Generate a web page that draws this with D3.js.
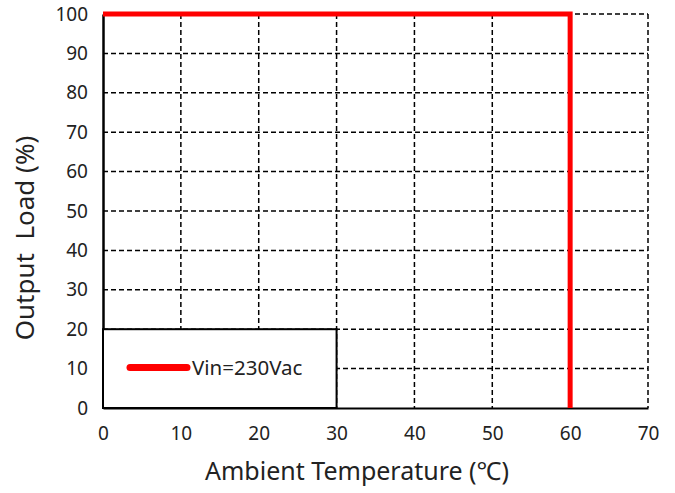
<!DOCTYPE html>
<html>
<head>
<meta charset="utf-8">
<script src="https://cdn.jsdelivr.net/npm/d3@7"></script>
<style>
  body { margin: 0; background: #fff; }
  text { font-family: "Noto Sans", "Open Sans", sans-serif; fill: #222; }
</style>
</head>
<body>
<div id="chart"></div>
<script>
// Derating curve values
const xTicks = [0, 10, 20, 30, 40, 50, 60, 70];
const yTicks = [0, 10, 20, 30, 40, 50, 60, 70, 80, 90, 100];
const curveTemp = [0, 60, 60];
const curveLoad = [100, 100, 0];
const seriesName = "Vin=230Vac";
const xTitle = "Ambient Temperature (℃)";
const yTitle = "Output  Load (%)";

function drawChart() {
  const W = 675, H = 493;
  const margin = { top: 14, right: 27, bottom: 85, left: 103 };
  const width = W - margin.left - margin.right;
  const height = H - margin.top - margin.bottom;

  const svg = d3.select("#chart").append("svg")
      .attr("width", W).attr("height", H);
  const g = svg.append("g")
      .attr("transform", `translate(${margin.left},${margin.top})`);

  const x = d3.scaleLinear().domain([0, 70]).range([0, width]);
  const y = d3.scaleLinear().domain([0, 100]).range([height, 0]);

  // dashed grid
  g.selectAll(".vgrid").data(xTicks.slice(1))
    .enter().append("line")
      .attr("x1", d => x(d)).attr("x2", d => x(d))
      .attr("y1", 0).attr("y2", height)
      .attr("stroke", "#000").attr("stroke-width", 1.5)
      .attr("stroke-dasharray", "5,3");
  g.selectAll(".hgrid").data(yTicks.slice(1))
    .enter().append("line")
      .attr("x1", 0).attr("x2", width)
      .attr("y1", d => y(d)).attr("y2", d => y(d))
      .attr("stroke", "#000").attr("stroke-width", 1.5)
      .attr("stroke-dasharray", "5,3");

  // axes
  const xAxis = g.append("g")
      .attr("transform", `translate(0,${height})`)
      .call(d3.axisBottom(x).tickValues(xTicks).tickSize(0).tickPadding(19));
  xAxis.select(".domain").attr("stroke", "#000").attr("stroke-width", 2);
  xAxis.selectAll("text").style("font-size", "19px");

  const yAxis = g.append("g")
      .call(d3.axisLeft(y).tickValues(yTicks).tickSize(0).tickPadding(15));
  yAxis.select(".domain").attr("stroke", "#000").attr("stroke-width", 2.5);
  yAxis.selectAll("text").style("font-size", "19px");

  // legend box (in data coordinates: 0..30, 0..20)
  g.append("rect")
      .attr("x", x(0)).attr("y", y(20))
      .attr("width", x(30) - x(0)).attr("height", y(0) - y(20))
      .attr("fill", "#fff").attr("stroke", "#000").attr("stroke-width", 2);
  g.append("line")
      .attr("x1", 27).attr("x2", 84)
      .attr("y1", y(10.3)).attr("y2", y(10.3))
      .attr("stroke", "#f00").attr("stroke-width", 7)
      .attr("stroke-linecap", "round");
  g.append("text")
      .attr("x", 89).attr("y", y(10.3))
      .attr("dy", "0.35em")
      .style("font-size", "20.5px")
      .text(seriesName);

  // derating curve
  const pts = curveTemp.map((t, i) => ({ t, load: curveLoad[i] }));
  const line = d3.line().x(d => x(d.t)).y(d => y(d.load));
  g.append("path")
      .datum(pts)
      .attr("d", line)
      .attr("fill", "none")
      .attr("stroke", "#f00")
      .attr("stroke-width", 5);

  // titles
  svg.append("text")
      .attr("x", 357).attr("y", 480)
      .attr("text-anchor", "middle")
      .style("font-size", "25px")
      .text(xTitle);
  svg.append("text")
      .attr("transform", "translate(34,238) rotate(-90)")
      .attr("text-anchor", "middle")
      .style("font-size", "26px")
      .style("white-space", "pre")
      .text(yTitle);
}

drawChart();
</script>
</body>
</html>
